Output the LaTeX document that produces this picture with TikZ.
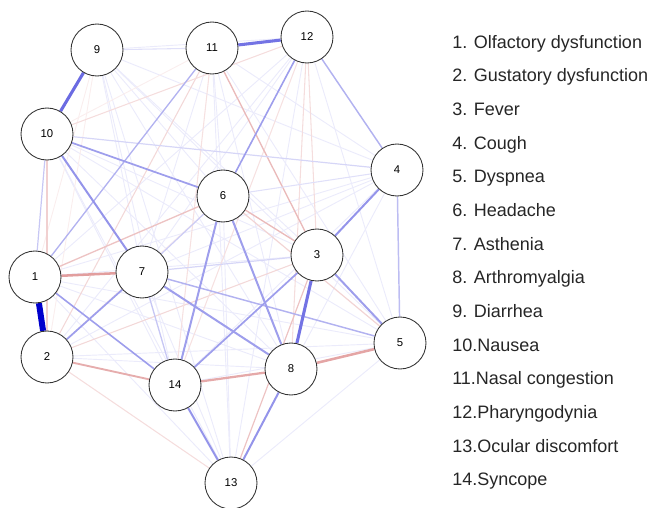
\documentclass[tikz,border=0pt]{standalone}
\usepackage{fontspec}
\setmainfont{Liberation Sans}
\usetikzlibrary{backgrounds}
\definecolor{qblue}{RGB}{0,0,205}
\definecolor{qred}{RGB}{190,40,40}
\begin{document}
\begin{tikzpicture}[x=0.75pt,y=-0.75pt,
    sym/.style={circle,draw=black!80,line width=0.65pt,fill=white,minimum size=39pt,inner sep=0pt,font=\fontsize{8.5}{10}\selectfont},
    item/.style={anchor=base west,inner sep=0pt,font=\fontsize{13.5}{15}\selectfont,text=black!85},
    pe/.style 2 args={draw=qblue!#1!white,line width=#2pt},
    ne/.style 2 args={draw=qred!#1!white,line width=#2pt}]
  \useasboundingbox (0,0) rectangle (652,507);
  % symptom nodes
  \node[sym] (n1)  at (35,277)  {1};
  \node[sym] (n2)  at (47,357)  {2};
  \node[sym] (n3)  at (317,255) {3};
  \node[sym] (n4)  at (397,170) {4};
  \node[sym] (n5)  at (400,343) {5};
  \node[sym] (n6)  at (223,196) {6};
  \node[sym] (n7)  at (142,272) {7};
  \node[sym] (n8)  at (291,369) {8};
  \node[sym] (n9)  at (97,50)   {9};
  \node[sym] (n10) at (47,134)  {10};
  \node[sym] (n11) at (212,48)  {11};
  \node[sym] (n12) at (307,37)  {12};
  \node[sym] (n13) at (231,483) {13};
  \node[sym] (n14) at (175,385) {14};
  \begin{pgfonlayer}{background}
    % faint edges
    \foreach \a/\b in {1/3,1/4,1/5,1/8,1/12,1/13,2/4,2/5,2/8,2/12,3/9,3/10,4/7,4/8,4/9,4/11,4/14,
                       5/9,5/10,5/11,5/12,5/13,5/14,6/9,6/11,6/13,7/9,7/11,7/12,7/13,8/9,8/10,
                       8/11,9/12,9/13,9/14,10/13,10/14,11/13,12/13}
      \draw[pe={8}{0.7}] (n\a) -- (n\b);
    \foreach \a/\b in {1/9,2/6,2/9,10/11}
      \draw[ne={8}{0.7}] (n\a) -- (n\b);
    % negative edges
    \foreach \a/\b/\c/\w in {2/3/18/0.8,2/10/22/0.9,2/11/18/0.8,2/13/16/0.8,3/12/16/0.8,8/12/16/0.8,
                             10/12/16/0.8,11/14/14/0.8,12/14/14/0.8,5/6/20/0.9,3/13/28/0.9,1/6/28/1.0,
                             3/6/32/1.0,3/11/32/1.0,2/14/38/1.4,8/14/40/1.7,5/8/42/1.9,1/7/45/1.9}
      \draw[ne={\c}{\w}] (n\a) -- (n\b);
    % positive edges
    \foreach \a/\b/\c/\w in {9/11/12/0.8,4/6/12/0.8,4/10/16/0.9,3/7/16/0.9,1/10/22/0.9,6/7/20/0.9,
                             7/14/22/1.0,4/5/26/1.1,1/11/30/1.0,4/12/30/1.1,5/7/30/1.1,6/12/38/1.2,
                             1/14/38/1.2,2/7/38/1.3,3/14/38/1.3,6/10/38/1.3,3/5/38/1.5,7/8/38/1.5,
                             6/8/38/1.5,6/14/38/1.5,13/14/42/1.5,8/13/42/1.5,3/4/42/1.5,7/10/42/1.5,
                             3/8/55/2.3,11/12/55/2.3,9/10/58/2.3,1/2/100/4.5}
      \draw[pe={\c}{\w}] (n\a) -- (n\b);
  \end{pgfonlayer}
  % legend
  \node[item] (l1)  at (452,48)  {1. Olfactory dysfunction};
  \node[item] (l2)  at (452,81)  {2. Gustatory dysfunction};
  \node[item] (l3)  at (452,115) {3. Fever};
  \node[item] (l4)  at (452,149) {4. Cough};
  \node[item] (l5)  at (452,182) {5. Dyspnea};
  \node[item] (l6)  at (452,216) {6. Headache};
  \node[item] (l7)  at (452,250) {7. Asthenia};
  \node[item] (l8)  at (452,283) {8. Arthromyalgia};
  \node[item] (l9)  at (452,317) {9. Diarrhea};
  \node[item] (l10) at (452,351) {10.Nausea};
  \node[item] (l11) at (452,384) {11.Nasal congestion};
  \node[item] (l12) at (452,418) {12.Pharyngodynia};
  \node[item] (l13) at (452,452) {13.Ocular discomfort};
  \node[item] (l14) at (452,485) {14.Syncope};
\end{tikzpicture}
\end{document}
